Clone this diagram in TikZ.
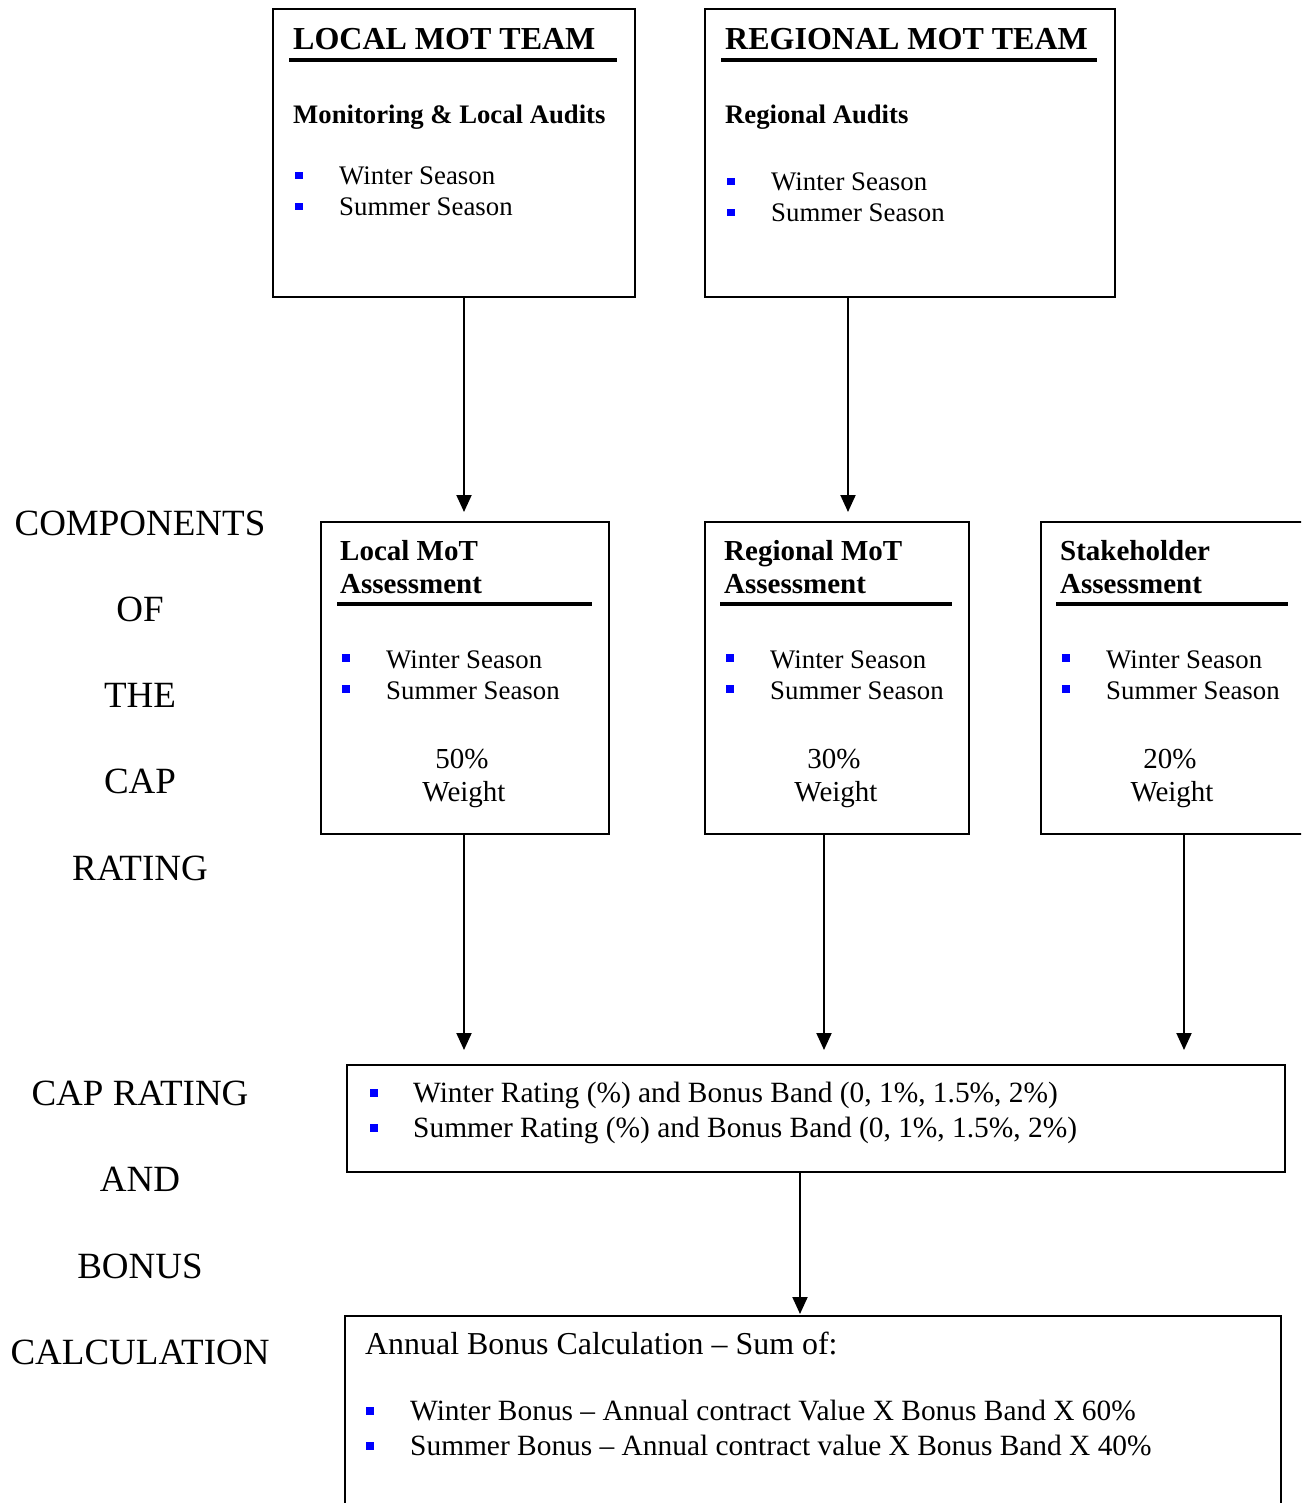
\documentclass[tikz,border=0pt]{standalone}
\usepackage{fontspec}
\setmainfont{Liberation Serif}
\usetikzlibrary{arrows.meta}
\newcommand\ftitle{\fontsize{32}{38}\selectfont\bfseries}
\newcommand\fsubh{\fontsize{26.7}{31}\selectfont\bfseries}
\newcommand\fmidh{\fontsize{29}{34}\selectfont\bfseries}
\newcommand\fbody{\fontsize{26.8}{31}\selectfont}
\newcommand\fwt{\fontsize{29}{34}\selectfont}
\newcommand\frate{\fontsize{29.4}{34}\selectfont}
\newcommand\fann{\fontsize{31.9}{36}\selectfont}
\begin{document}
\begin{tikzpicture}[x=1pt,y=-1pt,
  box/.style={draw, line width=1.8pt, rectangle, inner sep=0pt, anchor=north west},
  bul/.style={fill={rgb,255:red,0;green,0;blue,255}, rectangle, inner sep=0pt, minimum size=7.5pt},
  txt/.style={anchor=base west, inner sep=0pt},
  ctr/.style={anchor=base, inner sep=0pt},
  uline/.style={line width=4pt},
  arr/.style={line width=2pt, -{Triangle[width=15pt,length=17pt]}},
  lab/.style={anchor=base, inner sep=0pt, font=\fontsize{37}{41}\selectfont}
]
\useasboundingbox (0,0) rectangle (1301,1503);
\clip (0,0) rectangle (1301,1503);
\fill[white] (0,0) rectangle (1301,1503);

% ---------- top boxes ----------
\node[box, minimum width=362pt, minimum height=288pt] (b1) at (272,8) {};
\node[txt] (b1t) at (293,50) {\ftitle LOCAL MOT TEAM};
\draw[uline] (289,60) -- (617,60);
\node[txt] (b1s) at (293,124) {\fsubh Monitoring \& Local Audits};
\node[bul] (b1p1) at (299,175.5) {};
\node[bul] (b1p2) at (299,206.5) {};
\node[txt] (b1w) at (339,185) {\fbody Winter Season};
\node[txt] (b1m) at (339,216) {\fbody Summer Season};

\node[box, minimum width=410pt, minimum height=288pt] (b2) at (704,8) {};
\node[txt] (b2t) at (725,50) {\ftitle REGIONAL MOT TEAM};
\draw[uline] (721,60) -- (1097,60);
\node[txt] (b2s) at (725,124) {\fsubh Regional Audits};
\node[bul] (b2p1) at (731,181.5) {};
\node[bul] (b2p2) at (731,212.5) {};
\node[txt] (b2w) at (771,191) {\fbody Winter Season};
\node[txt] (b2m) at (771,222) {\fbody Summer Season};

% ---------- middle boxes ----------
\node[box, minimum width=288pt, minimum height=312pt] (ma) at (320,521) {};
\node[txt] (mat1) at (340,560) {\fmidh Local MoT};
\node[txt] (mat2) at (340,593) {\fmidh Assessment};
\draw[uline] (337,604) -- (592,604);
\node[bul] (map1) at (346,658) {};
\node[bul] (map2) at (346,689) {};
\node[txt] (maw) at (386,668) {\fbody Winter Season};
\node[txt] (mam) at (386,699) {\fbody Summer Season};
\node[ctr] (map) at (462,768) {\fwt 50\%};
\node[ctr] (mawt) at (464,801) {\fwt Weight};

\node[box, minimum width=264pt, minimum height=312pt] (mb) at (704,521) {};
\node[txt] (mbt1) at (724,560) {\fmidh Regional MoT};
\node[txt] (mbt2) at (724,593) {\fmidh Assessment};
\draw[uline] (720,604) -- (952,604);
\node[bul] (mbp1) at (730,658) {};
\node[bul] (mbp2) at (730,689) {};
\node[txt] (mbw) at (770,668) {\fbody Winter Season};
\node[txt] (mbm) at (770,699) {\fbody Summer Season};
\node[ctr] (mbp) at (834,768) {\fwt 30\%};
\node[ctr] (mbwt) at (836,801) {\fwt Weight};

\node[box, minimum width=300pt, minimum height=312pt] (mc) at (1040,521) {};
\node[txt] (mct1) at (1060,560) {\fmidh Stakeholder};
\node[txt] (mct2) at (1060,593) {\fmidh Assessment};
\draw[uline] (1056,604) -- (1288,604);
\node[bul] (mcp1) at (1066,658) {};
\node[bul] (mcp2) at (1066,689) {};
\node[txt] (mcw) at (1106,668) {\fbody Winter Season};
\node[txt] (mcm) at (1106,699) {\fbody Summer Season};
\node[ctr] (mcp) at (1170,768) {\fwt 20\%};
\node[ctr] (mcwt) at (1172,801) {\fwt Weight};

% ---------- rating box ----------
\node[box, minimum width=938pt, minimum height=107pt] (rt) at (346,1064) {};
\node[bul] (rtp1) at (374,1093) {};
\node[bul] (rtp2) at (374,1128) {};
\node[txt] (rtw) at (413,1102) {\frate Winter Rating (\%) and Bonus Band (0, 1\%, 1.5\%, 2\%)};
\node[txt] (rtm) at (413,1137) {\frate Summer Rating (\%) and Bonus Band (0, 1\%, 1.5\%, 2\%)};

% ---------- annual box ----------
\node[box, minimum width=936pt, minimum height=260pt] (an) at (344,1315) {};
\node[txt] (ant) at (365,1354) {\fann Annual Bonus Calculation -- Sum of:};
\node[bul] (anp1) at (370,1411) {};
\node[bul] (anp2) at (370,1446) {};
\node[txt] (anw) at (410,1420) {\frate Winter Bonus -- Annual contract Value X Bonus Band X 60\%};
\node[txt] (anm) at (410,1455) {\frate Summer Bonus -- Annual contract value X Bonus Band X 40\%};

% ---------- side labels ----------
\node[lab] (l1) at (140,535) {COMPONENTS};
\node[lab] (l2) at (140,621) {OF};
\node[lab] (l3) at (140,707) {THE};
\node[lab] (l4) at (140,793) {CAP};
\node[lab] (l5) at (140,880) {RATING};
\node[lab] (l6) at (140,1105) {CAP RATING};
\node[lab] (l7) at (140,1191) {AND};
\node[lab] (l8) at (140,1278) {BONUS};
\node[lab] (l9) at (140,1364) {CALCULATION};

% ---------- connectors ----------
\coordinate (t1) at (464,512);
\coordinate (t2) at (848,512);
\coordinate (t3) at (464,1050);
\coordinate (t4) at (824,1050);
\coordinate (t5) at (1184,1050);
\coordinate (t6) at (800,1314);
\draw[arr] (b1.south -| t1) -- (t1);
\draw[arr] (b2.south -| t2) -- (t2);
\draw[arr] (ma.south -| t3) -- (t3);
\draw[arr] (mb.south -| t4) -- (t4);
\draw[arr] (mc.south -| t5) -- (t5);
\draw[arr] (rt.south -| t6) -- (t6);
\end{tikzpicture}
\end{document}
